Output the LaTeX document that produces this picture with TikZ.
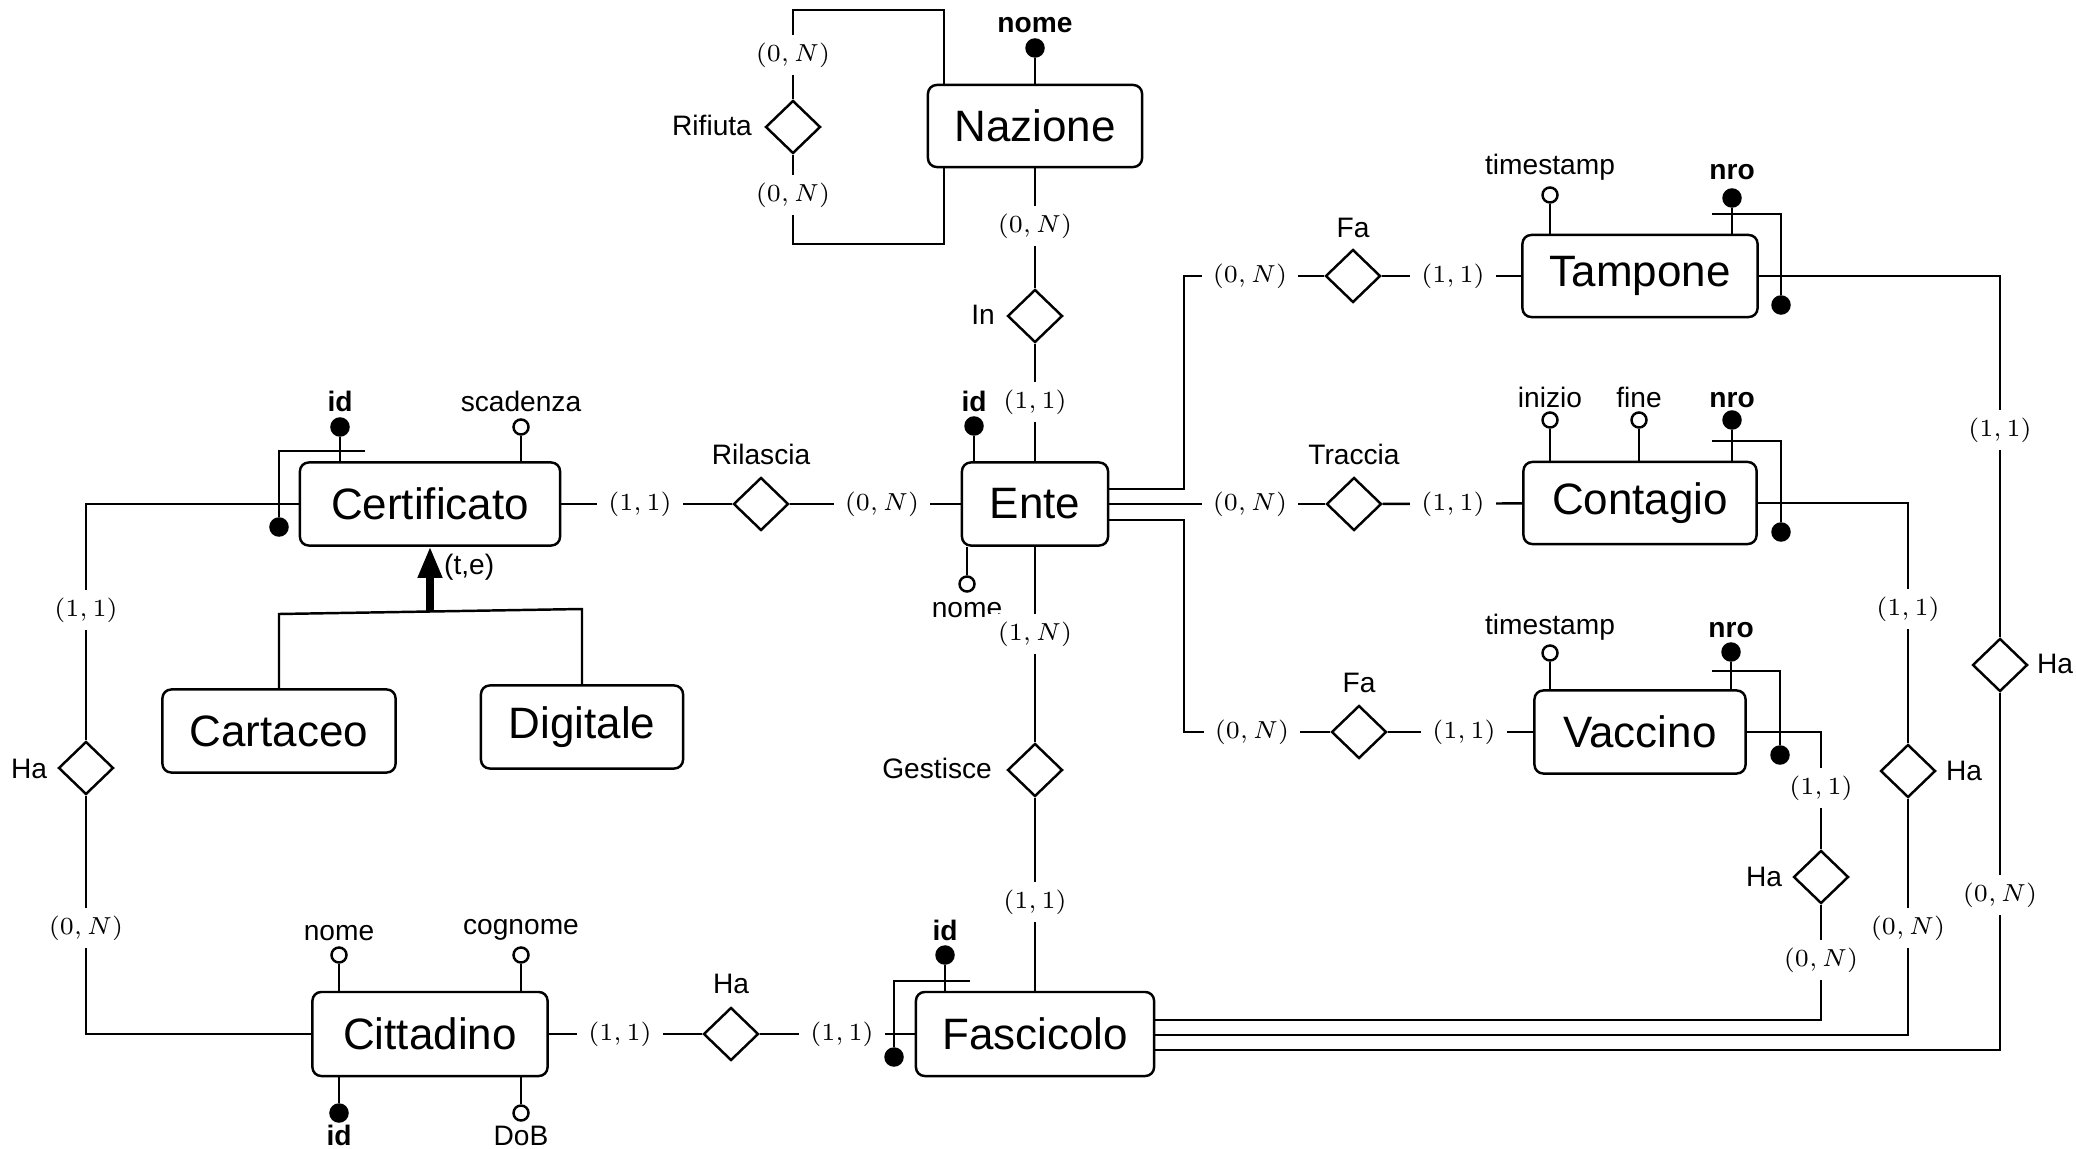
\documentclass[tikz,border=0pt]{standalone}
\usepackage{fontspec}
\setmainfont{Liberation Sans}
\usetikzlibrary{shapes.geometric,arrows.meta,calc}
\newcommand\entf{\fontsize{12.5}{15}\selectfont}
\newcommand\lblf{\fontsize{8}{9.6}\selectfont}
\newcommand\cardf{\fontsize{7.5}{9}\selectfont}
\begin{document}
\begin{tikzpicture}[x=0.01cm,y=-0.01cm,line width=0.7pt,
 ent/.style={draw,rounded corners=2.5pt,minimum height=0.83cm,inner sep=0pt,font=\entf},
 rel/.style={draw,diamond,minimum width=0.55cm,minimum height=0.53cm,inner sep=0pt},
 card/.style={fill=white,inner xsep=3.2pt,inner ysep=2.3pt,font=\cardf},
 lbl/.style={font=\lblf,inner sep=0pt,anchor=base},
 ao/.style={circle,draw,fill=white,minimum size=0.15cm,inner sep=0pt},
 ak/.style={circle,draw,fill=black,minimum size=0.17cm,inner sep=0pt}]
\useasboundingbox (0,0) rectangle (2076,1149);

% entities
\node[ent,minimum width=2.14cm,minimum height=0.82cm] (naz) at (1035,126) {Nazione};
\node[ent,minimum width=1.46cm] (ente) at (1035,504) {Ente};
\node[ent,minimum width=2.60cm] (cert) at (430,504) {Certificato};
\node[ent,minimum width=2.33cm] (cart) at (279,731) {Cartaceo};
\node[ent,minimum width=2.02cm] (digi) at (582,727) {Digitale};
\node[ent,minimum width=2.35cm,minimum height=0.82cm] (tamp) at (1640,276) {Tampone};
\node[ent,minimum width=2.33cm,minimum height=0.82cm] (cont) at (1640,503) {Contagio};
\node[ent,minimum width=2.11cm] (vacc) at (1640,732) {Vaccino};
\node[ent,minimum width=2.35cm,minimum height=0.84cm] (citt) at (430,1034) {Cittadino};
\node[ent,minimum width=2.38cm,minimum height=0.84cm] (fasc) at (1035,1034) {Fascicolo};

% relationships
\node[rel] (rif) at (793,127) {};
\node[rel] (in) at (1035,316) {};
\node[rel] (ril) at (761,504) {};
\node[rel] (faT) at (1353,276) {};
\node[rel] (trac) at (1354,504) {};
\node[rel] (faV) at (1359,732) {};
\node[rel] (gest) at (1035,770) {};
\node[rel] (haCe) at (86,768) {};
\node[rel] (haCi) at (731,1034) {};
\node[rel] (haV) at (1821,877) {};
\node[rel] (haC) at (1908,771) {};
\node[rel] (haT) at (2000,665) {};

% relationship labels
\node[lbl] (lRif) at (712,136) {Rifiuta};
\node[lbl] (lIn) at (983,325) {In};
\node[lbl] (lRil) at (761,465) {Rilascia};
\node[lbl] (lFaT) at (1353,238) {Fa};
\node[lbl] (lTrac) at (1354,465) {Traccia};
\node[lbl] (lFaV) at (1359,692) {Fa};
\node[lbl,anchor=base east] (lGest) at (993,778) {Gestisce};
\node[lbl] (lHaCe) at (29,778) {Ha};
\node[lbl] (lHaCi) at (731,993) {Ha};
\node[lbl] (lHaV) at (1764,886) {Ha};
\node[lbl] (lHaC) at (1964,780) {Ha};
\node[lbl] (lHaT) at (2055,673) {Ha};

% connectors
\draw (naz) -- (in) -- (ente);
\draw (cert) -- (ril) -- (ente);
\draw (ente) -- (gest) -- (fasc);
\draw (citt) -- (haCi) -- (fasc);
\draw (cert.west) -| (haCe) |- (citt.west);
\coordinate (r1) at (944,10);
\coordinate (r2) at (944,244);
\draw (naz.north -| r1) -- (r1) -| (rif);
\draw (rif) |- (r2) -- (naz.south -| r2);
\coordinate (kT) at (1184,0);
\draw ($(ente.east)+(0,-15)$) -| (kT |- faT) -- (faT);
\draw (ente) -- (trac);
\draw ($(ente.east)+(0,16)$) -| (kT |- faV) -- (faV);
\draw (faT) -- (tamp);
\draw (trac) -- (cont);
\draw (faV) -- (vacc);
\draw (tamp) -| (haT);
\draw (cont) -| (haC);
\draw (vacc) -| (haV);
\draw ($(fasc.east)+(0,-14)$) -| (haV);
\draw ($(fasc.east)+(0,1)$) -| (haC);
\draw ($(fasc.east)+(0,16)$) -| (haT);

% ISA hierarchy
\coordinate (isaL) at (279,614);
\coordinate (isaR) at (582,609);
\coordinate (isaM) at (430,611.5);
\draw (cart) -- (isaL) -- (isaR) -- (digi);
\draw[line width=2pt,-{Triangle[width=0.23cm,length=0.31cm]}] (isaM) -- (cert);
\node[lbl,anchor=west] (te) at (443,567) {(t,e)};

% attributes
\node[ak] (nazNome) at (1035,48) {};
\draw (naz) -- (nazNome);
\node[lbl] (lNazNome) at (1035,33) {\bfseries nome};

\node[ak] (enteId) at (974,426) {};
\draw (ente.north -| enteId) -- (enteId);
\node[lbl] (lEnteId) at (974,412) {\bfseries id};
\node[ao] (enteNome) at (967,584) {};
\draw (ente.south -| enteNome) -- (enteNome);
\node[lbl] (lEnteNome) at (967,617) {nome};

\node[ak] (certId) at (340,427) {};
\draw (cert.north -| certId) -- (certId);
\node[lbl] (lCertId) at (340,412) {\bfseries id};
\node[ao] (certSc) at (521,427) {};
\draw (cert.north -| certSc) -- (certSc);
\node[lbl] (lCertSc) at (521,412) {scadenza};

\node[ao] (tampTs) at (1550,195) {};
\draw (tamp.north -| tampTs) -- (tampTs);
\node[lbl] (lTampTs) at (1550,175) {timestamp};
\node[ak] (tampNro) at (1732,198) {};
\draw (tamp.north -| tampNro) -- (tampNro);
\node[lbl] (lTampNro) at (1732,180) {\bfseries nro};

\node[ao] (contIn) at (1550,420) {};
\draw (cont.north -| contIn) -- (contIn);
\node[lbl] (lContIn) at (1550,407) {inizio};
\node[ao] (contFi) at (1639,420) {};
\draw (cont.north -| contFi) -- (contFi);
\node[lbl] (lContFi) at (1639,407) {fine};
\node[ak] (contNro) at (1732,420) {};
\draw (cont.north -| contNro) -- (contNro);
\node[lbl] (lContNro) at (1732,407) {\bfseries nro};

\node[ao] (vaccTs) at (1550,653) {};
\draw (vacc.north -| vaccTs) -- (vaccTs);
\node[lbl] (lVaccTs) at (1550,634) {timestamp};
\node[ak] (vaccNro) at (1731,652) {};
\draw (vacc.north -| vaccNro) -- (vaccNro);
\node[lbl] (lVaccNro) at (1731,637) {\bfseries nro};

\node[ao] (cittNome) at (339,955) {};
\draw (citt.north -| cittNome) -- (cittNome);
\node[lbl] (lCittNome) at (339,940) {nome};
\node[ao] (cittCog) at (521,955) {};
\draw (citt.north -| cittCog) -- (cittCog);
\node[lbl] (lCittCog) at (521,934) {cognome};
\node[ak] (cittId) at (339,1113) {};
\draw (citt.south -| cittId) -- (cittId);
\node[lbl] (lCittId) at (339,1145) {\bfseries id};
\node[ao] (cittDob) at (521,1113) {};
\draw (citt.south -| cittDob) -- (cittDob);
\node[lbl] (lCittDob) at (521,1145) {DoB};

\node[ak] (fascId) at (945,955) {};
\draw (fasc.north -| fascId) -- (fascId);
\node[lbl] (lFascId) at (945,940) {\bfseries id};

% composite identifiers
\coordinate (ciL) at (279,451); \coordinate (ciR) at (365,451);
\node[ak] (ciD) at (279,527) {};
\draw (ciR) -- (ciL) -- (ciD);
\coordinate (tiL) at (1712,214); \coordinate (tiR) at (1781,214);
\node[ak] (tiD) at (1781,305) {};
\draw (tiL) -- (tiR) -- (tiD);
\coordinate (coL) at (1712,441); \coordinate (coR) at (1781,441);
\node[ak] (coD) at (1781,532) {};
\draw (coL) -- (coR) -- (coD);
\coordinate (vaL) at (1712,671); \coordinate (vaR) at (1780,671);
\node[ak] (vaD) at (1780,755) {};
\draw (vaL) -- (vaR) -- (vaD);
\coordinate (fiR) at (970,981); \coordinate (fiL) at (894,981);
\node[ak] (fiD) at (894,1057) {};
\draw (fiR) -- (fiL) -- (fiD);

% cardinalities
\node[card] (c1) at (793,55) {$(0,N)$};
\node[card] (c2) at (793,195) {$(0,N)$};
\node[card] (c3) at (1035,226) {$(0,N)$};
\node[card] (c4) at (1035,402) {$(1,1)$};
\node[card] (c5) at (640,504) {$(1,1)$};
\node[card] (c6) at (882,504) {$(0,N)$};
\node[card] (c7) at (1035,634) {$(1,N)$};
\node[card] (c8) at (1035,902) {$(1,1)$};
\node[card] (c9) at (1250,276) {$(0,N)$};
\node[card] (c10) at (1453,276) {$(1,1)$};
\node[card] (c11) at (1250,504) {$(0,N)$};
\node[card] (c12) at (1453,504) {$(1,1)$};
\node[card] (c13) at (1252,732) {$(0,N)$};
\node[card] (c14) at (1464,732) {$(1,1)$};
\node[card] (c15) at (86,610) {$(1,1)$};
\node[card] (c16) at (86,928) {$(0,N)$};
\node[card] (c17) at (620,1034) {$(1,1)$};
\node[card] (c18) at (842,1034) {$(1,1)$};
\node[card] (c19) at (1821,788) {$(1,1)$};
\node[card] (c20) at (1821,960) {$(0,N)$};
\node[card] (c21) at (1908,609) {$(1,1)$};
\node[card] (c22) at (1908,928) {$(0,N)$};
\node[card] (c23) at (2000,430) {$(1,1)$};
\node[card] (c24) at (2000,895) {$(0,N)$};
\end{tikzpicture}
\end{document}
